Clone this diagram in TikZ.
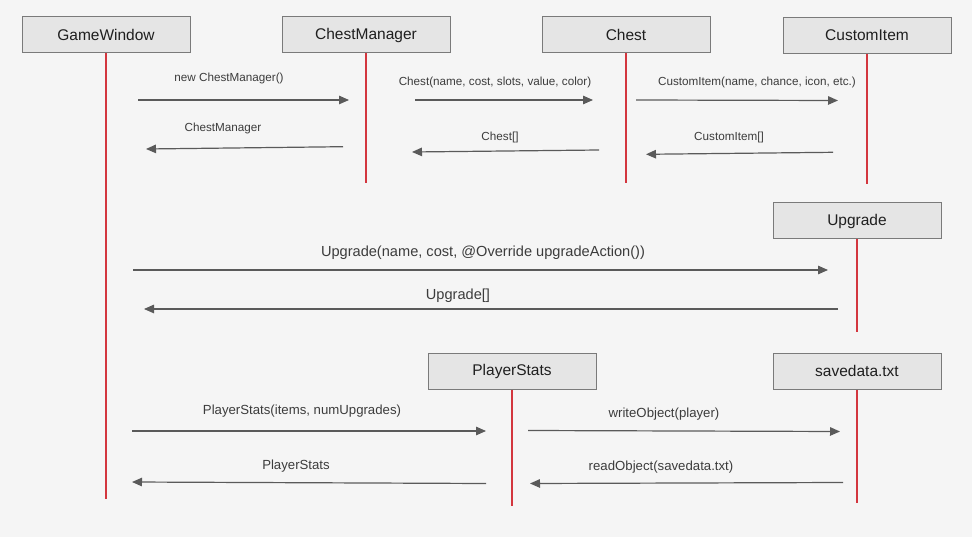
\documentclass[tikz,border=0pt]{standalone}
\usepackage{fontspec}
\setmainfont{Liberation Sans}
\usetikzlibrary{arrows.meta}
\definecolor{bg}{HTML}{F5F5F5}
\definecolor{boxfill}{HTML}{E5E5E5}
\definecolor{boxline}{HTML}{7A7A7A}
\definecolor{lifered}{HTML}{D3363E}
\definecolor{arrowc}{HTML}{5A5A5A}
\definecolor{txtc}{HTML}{3C3C3C}
\tikzset{
  actor/.style={draw=boxline, line width=1pt, fill=boxfill, minimum width=168pt, minimum height=36pt, inner sep=0pt, font=\fontsize{15.5}{18}\selectfont, text=black!88},
  life/.style={draw=lifered, line width=1.3pt},
  msg/.style={draw=arrowc, line width=1.2pt, -{Triangle[length=10pt,width=8.5pt]}},
  lblS/.style={text=txtc, font=\fontsize{11.7}{14}\selectfont, inner sep=0pt},
  lblM/.style={text=txtc, font=\fontsize{13.2}{16}\selectfont, inner sep=0pt},
  lblL/.style={text=txtc, font=\fontsize{14.6}{17}\selectfont, inner sep=0pt},
}
\begin{document}
\begin{tikzpicture}[x=1pt,y=-1pt]
\useasboundingbox[fill=bg] (0,0) rectangle (972,537);
% actors
\node[actor] (gw) at (106,35) {GameWindow};
\node[actor] (cm) at (366,35) {ChestManager};
\node[actor] (ch) at (626,35) {Chest};
\node[actor] (ci) at (867,35.5) {CustomItem};
\node[actor] (up) at (857,221) {Upgrade};
\node[actor] (ps) at (512,371) {PlayerStats};
\node[actor] (sd) at (857,371) {savedata.txt};
% lifeline ends
\coordinate (gwE) at (106,499);
\coordinate (cmE) at (366,183);
\coordinate (chE) at (626,183);
\coordinate (ciE) at (867,184);
\coordinate (upE) at (857,332);
\coordinate (psE) at (512,506);
\coordinate (sdE) at (857,503);
\draw[life] (gw.south) -- (gwE);
\draw[life] (cm.south) -- (cmE);
\draw[life] (ch.south) -- (chE);
\draw[life] (ci.south) -- (ciE);
\draw[life] (up.south) -- (upE);
\draw[life] (ps.south) -- (psE);
\draw[life] (sd.south) -- (sdE);
% message end points
\coordinate (a1s) at (138,100); \coordinate (a1e) at (349,100);
\coordinate (a2s) at (343,146.7); \coordinate (a2e) at (146,149);
\coordinate (a3s) at (415,100); \coordinate (a3e) at (593,100);
\coordinate (a4s) at (599,150); \coordinate (a4e) at (412,152);
\coordinate (a5s) at (636,100); \coordinate (a5e) at (838,100.5);
\coordinate (a6s) at (833,152.3); \coordinate (a6e) at (646,154.3);
\coordinate (a7s) at (133,270); \coordinate (a7e) at (828,270);
\coordinate (a8s) at (838,309); \coordinate (a8e) at (144,309);
\coordinate (a9s) at (132,431); \coordinate (a9e) at (486,431);
\coordinate (a10s) at (528,430.5); \coordinate (a10e) at (840,431.5);
\coordinate (a11s) at (486,483.5); \coordinate (a11e) at (132,482);
\coordinate (a12s) at (843,482.5); \coordinate (a12e) at (530,483.5);
\draw[msg] (a1s) -- (a1e);
\draw[msg] (a2s) -- (a2e);
\draw[msg] (a3s) -- (a3e);
\draw[msg] (a4s) -- (a4e);
\draw[msg] (a5s) -- (a5e);
\draw[msg] (a6s) -- (a6e);
\draw[msg] (a7s) -- (a7e);
\draw[msg] (a8s) -- (a8e);
\draw[msg] (a9s) -- (a9e);
\draw[msg] (a10s) -- (a10e);
\draw[msg] (a11s) -- (a11e);
\draw[msg] (a12s) -- (a12e);
% labels
\node[lblS] (l1) at (229,78) {new ChestManager()};
\node[lblS] (l2) at (223,128) {ChestManager};
\node[lblS] (l3) at (495,82) {Chest(name, cost, slots, value, color)};
\node[lblS] (l4) at (500,137) {Chest[]};
\node[lblS] (l5) at (757,82) {CustomItem(name, chance, icon, etc.)};
\node[lblS] (l6) at (729,137) {CustomItem[]};
\node[lblL] (l7) at (483,253) {Upgrade(name, cost, @Override upgradeAction())};
\node[lblL] (l8) at (458,296) {Upgrade[]};
\node[lblM] (l9) at (302,411) {PlayerStats(items, numUpgrades)};
\node[lblM] (l10) at (664,414) {writeObject(player)};
\node[lblM] (l11) at (296,466) {PlayerStats};
\node[lblM] (l12) at (661,467) {readObject(savedata.txt)};
\end{tikzpicture}
\end{document}
